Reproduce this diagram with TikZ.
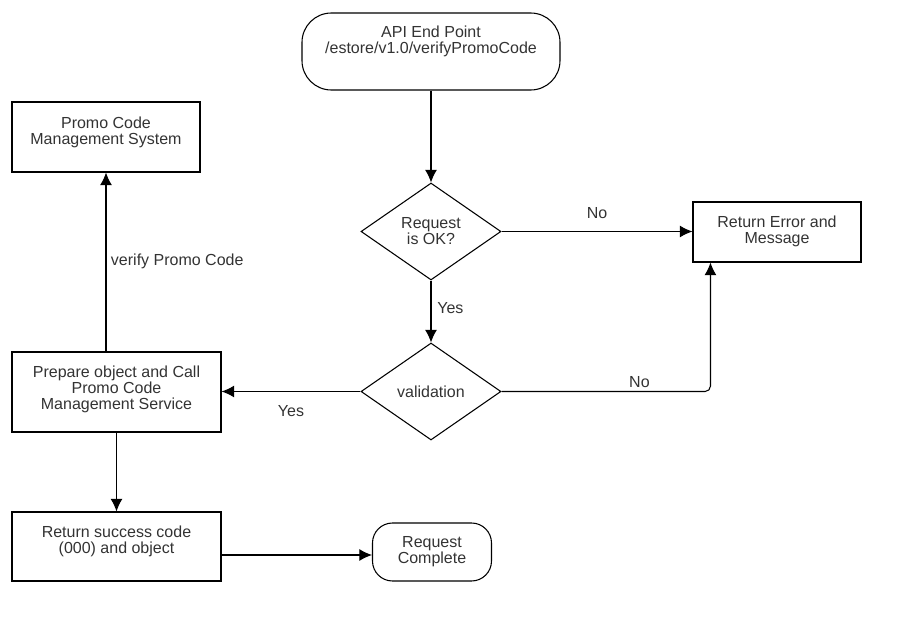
\documentclass[tikz,border=0pt]{standalone}
\usepackage{fontspec}
\setmainfont{Liberation Sans}
\usetikzlibrary{arrows.meta,shapes.geometric}

\begin{document}
\begin{tikzpicture}[x=0.75pt, y=-0.75pt, >={Latex[length=9.5pt,width=9pt]},
    line width=0.8pt, font=\fontsize{12}{12}\selectfont,
    txt/.style={align=center, text=textgray},
    box/.style={draw, rectangle, inner sep=0pt},
    terminal/.style={draw, rectangle, rounded corners=#1, inner sep=0pt},
    cond/.style={draw, diamond, aspect=1.44, inner sep=0pt, txt,
        minimum width=105pt, minimum height=72.75pt}]
    % Màu chữ xám đậm
    \definecolor{textgray}{RGB}{51, 51, 51}

    \useasboundingbox (0,0) rectangle (911,631);

    % 1. Các khối
    \node[terminal=22pt, minimum width=193.5pt, minimum height=57.75pt,
        label={[txt, yshift=7.9pt]center:API End Point\\/estore/v1.0/verifyPromoCode}]
        (api) at (431,51.5) {};
    \node[box, minimum width=141pt, minimum height=52.5pt,
        label={[txt, yshift=3.75pt]center:Promo Code\\Management System}]
        (pcms) at (106,137) {};
    \node[cond] (req) at (431,231.5) {Request\\is OK?};
    \node[box, minimum width=126pt, minimum height=45pt,
        label={[txt, yshift=0.75pt]center:Return Error and\\Message}]
        (err) at (777,232) {};
    \node[cond] (val) at (431,391.5) {validation};
    \node[box, minimum width=156.75pt, minimum height=60pt,
        label={[txt, yshift=1.75pt]center:Prepare object and Call\\Promo Code\\Management Service}]
        (prep) at (116.5,392) {};
    \node[box, minimum width=156.75pt, minimum height=51.75pt,
        label={[txt, yshift=4.1pt]center:Return success code\\(000) and object}]
        (succ) at (116.5,546.5) {};
    \node[terminal=15pt, minimum width=89.25pt, minimum height=43.5pt,
        label={[txt, yshift=0pt]center:Request\\Complete}]
        (done) at (432,552) {};

    % 2. Các mũi tên
    \draw[->] (api) -- (req);
    \draw[->] (req.east) -- node[txt, above=6pt] {No} (req.east -| err.west);
    \draw[->] (req) -- node[txt, right=1pt, pos=0.45] {Yes} (val);
    \draw[->, rounded corners=4pt] (val.east)
        -| node[txt, pos=0.33, above=-1pt] {No} ([xshift=13.5pt]err.south west);
    \draw[->] (val.west) -- node[txt, below=6.5pt] {Yes} (val.west -| prep.east);
    \draw[->] (prep.north -| pcms.south) -- node[txt, right=0pt, pos=0.505] {verify Promo Code} (pcms.south);
    \draw[->] (prep) -- (succ);
    \draw[->] ([yshift=-2.25pt]done.west -| succ.east) -- ([yshift=-2.25pt]done.west);
\end{tikzpicture}
\end{document}
